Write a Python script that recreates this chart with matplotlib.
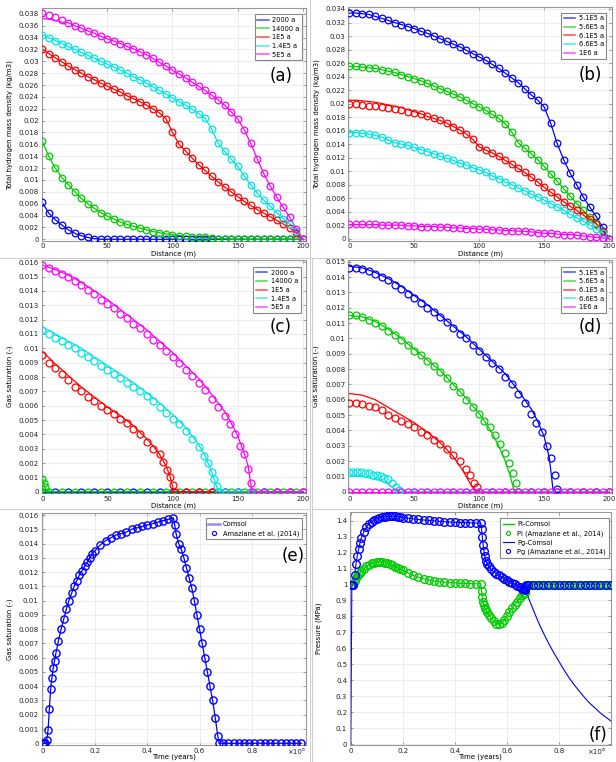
import matplotlib
matplotlib.use("Agg")
import matplotlib.pyplot as plt
from matplotlib.lines import Line2D
from matplotlib.ticker import MultipleLocator, FuncFormatter

W, H = 616, 762

BLUE = "#0000ff"
GREEN = "#00cc00"
RED = "#ff0000"
CYAN = "#00e5e5"
MAGENTA = "#ff00ff"

# ---------------- (a) hydrogen density, early times ----------------
DIST = list(range(0, 201, 5))
a_labels = ["2000 a", "14000 a", "1E5 a", "1.4E5 a", "5E5 a"]
a_2000 = [0.0062, 0.0044, 0.0033, 0.0024, 0.0016, 0.0010, 0.0006, 0.0003, 0.0001,
          0, 0, 0, 0, 0, 0, 0, 0, 0, 0, 0, 0, 0, 0, 0, 0, 0, 0, 0, 0, 0, 0, 0, 0, 0, 0, 0, 0, 0, 0, 0, 0]
a_14000 = [0.0165, 0.0140, 0.0120, 0.0104, 0.0092, 0.0080, 0.0069, 0.0060, 0.0052, 0.0045,
           0.0039, 0.0034, 0.0029, 0.0025, 0.0022, 0.0019, 0.0016, 0.0013, 0.0011, 0.0009,
           0.0008, 0.0006, 0.0005, 0.0004, 0.0003, 0.0003, 0.0002, 0.0001, 0.0001,
           0, 0, 0, 0, 0, 0, 0, 0, 0, 0, 0, 0]
a_1E5 = [0.0320, 0.0313, 0.0306, 0.0299, 0.0292, 0.0286, 0.0280, 0.0274, 0.0269, 0.0263,
         0.0258, 0.0253, 0.0248, 0.0242, 0.0237, 0.0232, 0.0226, 0.0220, 0.0213, 0.0203,
         0.0180, 0.0160, 0.0149, 0.0137, 0.0126, 0.0116, 0.0106, 0.0097, 0.0088, 0.0080,
         0.0072, 0.0064, 0.0057, 0.0050, 0.0044, 0.0038, 0.0032, 0.0026, 0.0019, 0.0011, 0.0]
a_1_4E5 = [0.0345, 0.0340, 0.0335, 0.0330, 0.0325, 0.0320, 0.0315, 0.0310, 0.0305, 0.0300,
           0.0295, 0.0290, 0.0285, 0.0280, 0.0274, 0.0269, 0.0263, 0.0257, 0.0251, 0.0245,
           0.0238, 0.0232, 0.0226, 0.0219, 0.0212, 0.0204, 0.0186, 0.0162, 0.0148, 0.0135,
           0.0123, 0.0107, 0.0092, 0.0078, 0.0066, 0.0056, 0.0045, 0.0035, 0.0026, 0.0014, 0.0]
a_5E5 = [0.0382, 0.0378, 0.0374, 0.0370, 0.0365, 0.0360, 0.0356, 0.0351, 0.0347, 0.0342,
         0.0338, 0.0334, 0.0330, 0.0325, 0.0321, 0.0316, 0.0311, 0.0305, 0.0298, 0.0292,
         0.0285, 0.0279, 0.0272, 0.0265, 0.0258, 0.0251, 0.0243, 0.0235, 0.0226, 0.0215,
         0.0203, 0.0185, 0.0162, 0.0136, 0.0111, 0.0090, 0.0071, 0.0054, 0.0037, 0.0018, 0.0]
a_5E5_line_start = [0.0372, 0.0371, 0.0369, 0.0366]

# ---------------- (b) hydrogen density, late times ----------------
b_labels = ["5.1E5 a", "5.6E5 a", "6.1E5 a", "6.6E5 a", "1E6 a"]
b_5_1E5 = [0.0334, 0.0334, 0.0333, 0.0332, 0.0329, 0.0326, 0.0323, 0.0320, 0.0317, 0.0314,
           0.0311, 0.0307, 0.0304, 0.0300, 0.0296, 0.0292, 0.0288, 0.0284, 0.0279, 0.0274,
           0.0269, 0.0264, 0.0258, 0.0252, 0.0245, 0.0238, 0.0231, 0.0222, 0.0213, 0.0205,
           0.0195, 0.0171, 0.0141, 0.0117, 0.0097, 0.0080, 0.0062, 0.0047, 0.0033, 0.0017, 0.0]
b_5_6E5 = [0.0255, 0.0255, 0.0254, 0.0253, 0.0252, 0.0250, 0.0248, 0.0246, 0.0243, 0.0240,
           0.0237, 0.0234, 0.0230, 0.0226, 0.0222, 0.0218, 0.0214, 0.0210, 0.0205, 0.0200,
           0.0195, 0.0190, 0.0184, 0.0178, 0.0170, 0.0158, 0.0142, 0.0134, 0.0126, 0.0117,
           0.0107, 0.0096, 0.0085, 0.0074, 0.0063, 0.0052, 0.0042, 0.0032, 0.0023, 0.0012, 0.0]
b_6_1E5 = [0.0199, 0.0199, 0.0198, 0.0197, 0.0196, 0.0195, 0.0193, 0.0192, 0.0190, 0.0188,
           0.0186, 0.0184, 0.0181, 0.0178, 0.0175, 0.0171, 0.0166, 0.0161, 0.0155, 0.0147,
           0.0136, 0.0131, 0.0127, 0.0122, 0.0116, 0.0110, 0.0104, 0.0098, 0.0091, 0.0084,
           0.0076, 0.0069, 0.0062, 0.0055, 0.0048, 0.0042, 0.0035, 0.0029, 0.0022, 0.0012, 0.0]
b_6_1E5_line_start = [0.0205, 0.0205, 0.0204, 0.0203, 0.0202, 0.0200, 0.0198, 0.0196,
                      0.0194, 0.0191, 0.0188, 0.0185]
b_6_6E5 = [0.0157, 0.0157, 0.0156, 0.0155, 0.0153, 0.0150, 0.0146, 0.0142, 0.0140, 0.0138,
           0.0135, 0.0132, 0.0129, 0.0126, 0.0122, 0.0119, 0.0116, 0.0112, 0.0109, 0.0105,
           0.0102, 0.0098, 0.0093, 0.0089, 0.0084, 0.0080, 0.0075, 0.0071, 0.0066, 0.0062,
           0.0057, 0.0052, 0.0047, 0.0042, 0.0036, 0.0031, 0.0026, 0.0020, 0.0015, 0.0008, 0.0]
b_1E6 = [0.0021, 0.0021, 0.0021, 0.0021, 0.0021, 0.0020, 0.0020, 0.0020, 0.0020, 0.0019,
         0.0019, 0.0018, 0.0018, 0.0018, 0.0017, 0.0017, 0.0016, 0.0016, 0.0015, 0.0015,
         0.0014, 0.0014, 0.0013, 0.0013, 0.0012, 0.0012, 0.0011, 0.0011, 0.0010, 0.0009,
         0.0008, 0.0008, 0.0007, 0.0006, 0.0006, 0.0005, 0.0004, 0.0003, 0.0002, 0.0001, 0.0]

# ---------------- (c) gas saturation, early times ----------------
c_2000_x = list(range(0, 201, 10))
c_2000 = [0, 0, 0, 0, 0, 0, 0, 0, 0, 0, 0, 0, 0, 0, 0, 0, 0, 0, 0, 0, 0]
c_14000_x = [0, 1, 2, 3] + list(range(5, 201, 10))
c_14000 = [0.0009, 0.0006, 0.0003, 0.0,
           0, 0, 0, 0, 0, 0, 0, 0, 0, 0, 0, 0, 0, 0, 0, 0, 0, 0, 0, 0]
c_1E5_x = list(range(0, 91, 5)) + [93, 96, 98, 100, 102] + list(range(110, 201, 10))
c_1E5 = [0.0095, 0.0090, 0.0086, 0.0082, 0.0078, 0.0073, 0.0070, 0.0066, 0.0063, 0.0060,
         0.0057, 0.0054, 0.0051, 0.0048, 0.0044, 0.0040, 0.0035, 0.0030, 0.0026,
         0.0021, 0.0015, 0.0010, 0.0005, 0.0,
         0, 0, 0, 0, 0, 0, 0, 0, 0, 0]
c_1E5_line_x = [0, 10, 20, 30, 40, 50, 60, 70, 80, 85, 90, 95, 98, 101, 200]
c_1E5_line = [0.0098, 0.0089, 0.0081, 0.0073, 0.0066, 0.0059, 0.0053, 0.0046, 0.0037,
              0.0032, 0.0026, 0.0018, 0.0011, 0.0, 0.0]
c_1_4E5_x = list(range(0, 121, 5)) + [124, 127, 130, 132, 134, 136] + list(range(140, 201, 10))
c_1_4E5 = [0.0113, 0.0110, 0.0107, 0.0105, 0.0102, 0.0100, 0.0097, 0.0094, 0.0091, 0.0088,
           0.0085, 0.0082, 0.0079, 0.0076, 0.0073, 0.0070, 0.0067, 0.0063, 0.0059, 0.0055,
           0.0051, 0.0047, 0.0042, 0.0037, 0.0031,
           0.0025, 0.0020, 0.0014, 0.0009, 0.0004, 0.0,
           0, 0, 0, 0, 0, 0, 0]
c_1_4E5_line_x = [0, 10, 20, 30, 40, 50, 60, 70, 80, 90, 100, 110, 120, 125, 130, 133, 135, 200]
c_1_4E5_line = [0.0115, 0.0110, 0.0105, 0.0100, 0.0094, 0.0088, 0.0082, 0.0076, 0.0069,
                0.0062, 0.0054, 0.0045, 0.0033, 0.0025, 0.0014, 0.0006, 0.0, 0.0]
c_5E5_x = list(range(0, 141, 5)) + [144, 148, 152, 155, 158, 160, 162] + [170, 180, 190, 200]
c_5E5 = [0.0158, 0.0156, 0.0154, 0.0152, 0.0150, 0.0147, 0.0144, 0.0141, 0.0138, 0.0134,
         0.0131, 0.0128, 0.0124, 0.0121, 0.0117, 0.0114, 0.0110, 0.0106, 0.0102, 0.0098,
         0.0094, 0.0090, 0.0085, 0.0081, 0.0076, 0.0071, 0.0065, 0.0059, 0.0053,
         0.0047, 0.0040, 0.0032, 0.0026, 0.0016, 0.0006, 0.0,
         0, 0, 0, 0]
c_5E5_line_x = [0, 10, 20, 30, 40, 50, 60, 70, 80, 90, 100, 110, 120, 130, 140, 145, 150,
                155, 158, 161, 200]
c_5E5_line = [0.0158, 0.0155, 0.0151, 0.0146, 0.0140, 0.0134, 0.0127, 0.0120, 0.0113,
              0.0105, 0.0097, 0.0088, 0.0079, 0.0068, 0.0056, 0.0048, 0.0039, 0.0027,
              0.0018, 0.0, 0.0]

# ---------------- (d) gas saturation, late times ----------------
d_5_1E5_x = list(range(0, 141, 5)) + [144, 148, 152, 155, 158, 160] + [170, 180, 190, 200]
d_5_1E5 = [0.0146, 0.0146, 0.0145, 0.0144, 0.0142, 0.0140, 0.0138, 0.0135, 0.0132, 0.0129,
           0.0126, 0.0123, 0.0120, 0.0117, 0.0114, 0.0111, 0.0107, 0.0103, 0.0100, 0.0096,
           0.0092, 0.0088, 0.0084, 0.0080, 0.0075, 0.0070, 0.0064, 0.0058, 0.0051,
           0.0045, 0.0039, 0.0030, 0.0022, 0.0011, 0.0002,
           0, 0, 0, 0]
d_5_1E5_line_x = [0, 10, 20, 30, 40, 50, 60, 70, 80, 90, 100, 110, 120, 130, 140, 145, 150,
                  154, 157, 200]
d_5_1E5_line = [0.0147, 0.0146, 0.0143, 0.0139, 0.0134, 0.0128, 0.0122, 0.0115, 0.0108,
                0.0101, 0.0093, 0.0085, 0.0077, 0.0066, 0.0054, 0.0046, 0.0036, 0.0022,
                0.0, 0.0]
d_5_6E5_x = list(range(0, 101, 5)) + [104, 108, 112, 116, 120, 123, 126, 128, 130] + list(range(140, 201, 10))
d_5_6E5 = [0.0115, 0.0115, 0.0114, 0.0112, 0.0110, 0.0108, 0.0105, 0.0102, 0.0099, 0.0096,
           0.0092, 0.0089, 0.0085, 0.0082, 0.0078, 0.0074, 0.0069, 0.0065, 0.0060, 0.0055,
           0.0051,
           0.0046, 0.0042, 0.0037, 0.0031, 0.0025, 0.0019, 0.0012, 0.0006, 0.0,
           0, 0, 0, 0, 0, 0, 0]
d_5_6E5_line_x = [0, 10, 20, 30, 40, 50, 60, 70, 80, 90, 100, 105, 110, 115, 120, 124, 127, 200]
d_5_6E5_line = [0.0115, 0.0114, 0.0111, 0.0106, 0.0100, 0.0093, 0.0086, 0.0079, 0.0070,
                0.0061, 0.0051, 0.0045, 0.0038, 0.0030, 0.0020, 0.0010, 0.0, 0.0]
d_6_1E5_x = list(range(0, 91, 5)) + [93, 96, 98, 100] + list(range(110, 201, 10))
d_6_1E5 = [0.0058, 0.0058, 0.0057, 0.0056, 0.0055, 0.0053, 0.0050, 0.0048, 0.0046, 0.0044,
           0.0042, 0.0039, 0.0037, 0.0034, 0.0031, 0.0028, 0.0024, 0.0020, 0.0015,
           0.0011, 0.0006, 0.0003, 0.0,
           0, 0, 0, 0, 0, 0, 0, 0, 0, 0]
d_6_1E5_line_x = [0, 10, 20, 30, 40, 50, 60, 70, 80, 88, 94, 97, 200]
d_6_1E5_line = [0.0064, 0.0063, 0.0060, 0.0055, 0.0050, 0.0045, 0.0039, 0.0032, 0.0023,
                0.0013, 0.0004, 0.0, 0.0]
d_6_6E5_x = [0, 3, 6, 9, 12, 15, 18, 21, 24, 27, 30, 33, 36, 38] + list(range(40, 201, 10))
d_6_6E5 = [0.0013, 0.0013, 0.0013, 0.0013, 0.0012, 0.0012, 0.0011, 0.0011, 0.0010, 0.0009,
           0.0008, 0.0006, 0.0003, 0.0001,
           0, 0, 0, 0, 0, 0, 0, 0, 0, 0, 0, 0, 0, 0, 0, 0, 0]
d_6_6E5_line_x = [0, 10, 20, 25, 30, 33, 36, 200]
d_6_6E5_line = [0.0010, 0.0010, 0.0008, 0.0007, 0.0005, 0.0003, 0.0, 0.0]
d_1E6 = [0, 0, 0, 0, 0, 0, 0, 0, 0, 0, 0, 0, 0, 0, 0, 0, 0, 0, 0, 0,
         0, 0, 0, 0, 0, 0, 0, 0, 0, 0, 0, 0, 0, 0, 0, 0, 0, 0, 0, 0, 0]

# ---------------- (e) gas saturation vs time (x 1e6 years) ----------------
e_time = [0, 0.005, 0.01, 0.015, 0.02, 0.025, 0.03, 0.035, 0.04, 0.045,
          0.05, 0.06, 0.07, 0.08, 0.09, 0.10, 0.11, 0.12, 0.13, 0.14,
          0.15, 0.16, 0.17, 0.18, 0.19, 0.20, 0.22, 0.24, 0.26, 0.28,
          0.30, 0.32, 0.34, 0.36, 0.38, 0.40, 0.42, 0.44, 0.46, 0.48,
          0.50, 0.505, 0.51, 0.52, 0.53, 0.54, 0.55, 0.56, 0.57, 0.58,
          0.59, 0.60, 0.61, 0.62, 0.63, 0.64, 0.65, 0.66, 0.67, 0.675,
          0.69, 0.71, 0.73, 0.75, 0.77, 0.79, 0.81, 0.83, 0.85, 0.87,
          0.89, 0.91, 0.93, 0.95, 0.97, 0.99]
e_sat = [0, 0, 0, 0.0002, 0.0009, 0.0024, 0.0038, 0.0046, 0.0053, 0.0058,
         0.0063, 0.0072, 0.0080, 0.0087, 0.0094, 0.0100, 0.0105, 0.0110, 0.0114, 0.0118,
         0.0121, 0.0124, 0.0127, 0.0130, 0.0133, 0.0135, 0.0139, 0.0142, 0.0144, 0.0146,
         0.0147, 0.0148, 0.0150, 0.0151, 0.0152, 0.0153, 0.0154, 0.0155, 0.0156, 0.0157,
         0.0158, 0.0153, 0.0147, 0.0140, 0.0136, 0.0130, 0.0123, 0.0116, 0.0109, 0.0100,
         0.0090, 0.0080, 0.0070, 0.0060, 0.0050, 0.0040, 0.0030, 0.0018, 0.0005, 0.0,
         0, 0, 0, 0, 0, 0, 0, 0, 0, 0,
         0, 0, 0, 0, 0, 0]

# ---------------- (f) pressures vs time (x 1e6 years) ----------------
f_time = [0, 0.005, 0.01, 0.015, 0.02, 0.025, 0.03, 0.035, 0.04,
          0.05, 0.06, 0.07, 0.08, 0.09, 0.10, 0.11, 0.12, 0.13, 0.14, 0.15, 0.16, 0.17,
          0.18, 0.19, 0.20,
          0.22, 0.24, 0.26, 0.28, 0.30, 0.32, 0.34, 0.36, 0.38, 0.40, 0.42, 0.44, 0.46,
          0.48, 0.50,
          0.503, 0.506, 0.509, 0.512, 0.515,
          0.52, 0.525, 0.53,
          0.54, 0.55, 0.56, 0.57, 0.58, 0.59, 0.60, 0.61, 0.62, 0.63, 0.64, 0.65, 0.66,
          0.665, 0.67]
f_pg = [1.00, 1.00, 1.00, 1.06, 1.13, 1.18, 1.22, 1.26, 1.29,
        1.33, 1.36, 1.38, 1.395, 1.405, 1.412, 1.418, 1.422, 1.425, 1.427, 1.428, 1.428,
        1.427, 1.425, 1.423, 1.420,
        1.416, 1.412, 1.408, 1.405, 1.402, 1.399, 1.396, 1.394, 1.392, 1.390, 1.389,
        1.388, 1.387, 1.386, 1.385,
        1.35, 1.30, 1.25, 1.21, 1.18,
        1.15, 1.13, 1.115,
        1.095, 1.08, 1.068, 1.057, 1.047, 1.037, 1.028, 1.019, 1.010, 1.001, 0.992,
        0.983, 0.974,
        0.969, 0.965]
f_pl = [1.0, 1.0, 1.0, 1.02, 1.04, 1.055, 1.065, 1.075, 1.085,
        1.10, 1.115, 1.125, 1.133, 1.138, 1.141, 1.142, 1.141, 1.138, 1.133, 1.127, 1.12,
        1.113, 1.105, 1.097, 1.089,
        1.073, 1.058, 1.046, 1.036, 1.028, 1.022, 1.018, 1.015, 1.012, 1.010, 1.008,
        1.007, 1.006, 1.005, 1.004,
        0.96, 0.92, 0.89, 0.87, 0.855,
        0.84, 0.825, 0.81,
        0.79, 0.77, 0.755, 0.752, 0.758, 0.775, 0.80, 0.825, 0.85, 0.872, 0.893, 0.913,
        0.932,
        0.94, 0.95]
f_pg_tail_t = [0.671, 0.672, 0.674, 0.68, 0.70, 0.72, 0.74, 0.76, 0.78, 0.80, 0.82, 0.84,
               0.86, 0.88, 0.90, 0.92, 0.94, 0.96, 0.98, 1.00]
f_pg_tail = [0.975, 0.985, 0.995, 1.0, 1.0, 1.0, 1.0, 1.0, 1.0, 1.0, 1.0, 1.0,
             1.0, 1.0, 1.0, 1.0, 1.0, 1.0, 1.0, 1.0]
f_pl_tail_t = [0.673, 0.69, 0.71, 0.73, 0.75, 0.77, 0.79, 0.81, 0.83, 0.85, 0.87, 0.89,
               0.91, 0.93, 0.95, 0.97, 0.99]
f_pl_tail = [0.99, 1.0, 1.0, 1.0, 1.0, 1.0, 1.0, 1.0, 1.0, 1.0, 1.0, 1.0,
             1.0, 1.0, 1.0, 1.0, 1.0]
f_pg_line_head_t = [0.0, 0.004]
f_pg_line_head = [0.0, 0.98]
f_pg_line_tail_t = [0.675, 0.68, 0.70, 0.72, 0.74, 0.76, 0.78, 0.80, 0.82, 0.84, 0.86,
                    0.88, 0.90, 0.92, 0.94, 0.96, 0.98, 1.0]
f_pg_line_tail = [0.955, 0.93, 0.85, 0.77, 0.70, 0.635, 0.575, 0.52, 0.465, 0.415, 0.37,
                  0.33, 0.29, 0.255, 0.225, 0.195, 0.17, 0.145]
f_pl_line_tail_t = [0.673, 1.0]
f_pl_line_tail = [1.0, 1.0]

fig = plt.figure(figsize=(W / 100, H / 100), dpi=100)


def add_ax(left, top, right, bottom):
    return fig.add_axes([left / W, 1 - bottom / H, (right - left) / W, (bottom - top) / H])


def style(ax, ystep):
    ax.tick_params(direction="in", top=True, right=True, length=2.5, width=0.5,
                   color="#777777", labelcolor="#222222", labelsize=5, pad=2)
    for s in ax.spines.values():
        s.set_color("#999999")
        s.set_linewidth(0.8)
    ax.grid(True, color="#e8e8e8", lw=0.5)
    ax.set_axisbelow(True)
    ax.yaxis.set_major_locator(MultipleLocator(ystep))
    ax.yaxis.set_major_formatter(FuncFormatter(lambda v, p: "%g" % round(v, 6)))


def leg(ax, handles, labels, anchor, spacing=0.4):
    lg = ax.legend(handles, labels, loc="upper right", bbox_to_anchor=anchor, fontsize=4.8,
                   frameon=True, fancybox=False, framealpha=1, edgecolor="#888888",
                   handlelength=1.7, handletextpad=0.5, labelspacing=spacing,
                   borderpad=0.4, borderaxespad=0, numpoints=1)
    lg.get_frame().set_linewidth(0.8)


def profiles(ax, series, ms):
    colors = [BLUE, GREEN, RED, CYAN, MAGENTA]
    for (xm, ym, xl, yl), c in zip(series, colors):
        ax.plot(xl, yl, "-", color=c, lw=0.9, zorder=2)
    for (xm, ym, xl, yl), c in zip(series, colors):
        ax.plot(xm, ym, "o", mfc="none", mec=c, ms=ms, mew=0.9, zorder=3)
    handles = [Line2D([], [], color=c, lw=1.1, alpha=0.7) for c in colors]
    return handles


# (a)
ax = add_ax(41.6, 8.5, 306, 240.7)
style(ax, 0.002)
h = profiles(ax, [
    (DIST, a_2000, DIST, a_2000),
    (DIST, a_14000, DIST, a_14000),
    (DIST, a_1E5, DIST, a_1E5),
    (DIST, a_1_4E5, DIST, a_1_4E5),
    (DIST, a_5E5, DIST, a_5E5_line_start + a_5E5[4:]),
], 4.8)
ax.set_xlim(-0.5, 202.5)
ax.set_ylim(-0.00024, 0.0389)
ax.xaxis.set_major_locator(MultipleLocator(50))
leg(ax, h, a_labels, (0.985, 0.975))
ax.text(0.95, 0.71, "(a)", transform=ax.transAxes, ha="right", va="center", fontsize=12)
ax.set_ylabel("Total hydrogen mass density (kg/m3)", fontsize=5, va="center")
ax.yaxis.set_label_coords(-0.121, 0.5)
ax.set_xlabel("Distance (m)", fontsize=5, va="center")
ax.xaxis.set_label_coords(0.5, -0.057)

# (b)
ax = add_ax(348.3, 6.7, 611.7, 240.7)
style(ax, 0.002)
h = profiles(ax, [
    (DIST, b_5_1E5, DIST, b_5_1E5),
    (DIST, b_5_6E5, DIST, b_5_6E5),
    (DIST, b_6_1E5, DIST, b_6_1E5_line_start + b_6_1E5[12:]),
    (DIST, b_6_6E5, DIST, b_6_6E5),
    (DIST, b_1E6, DIST, b_1E6),
], 4.8)
ax.set_xlim(-0.8, 202)
ax.set_ylim(-0.0003, 0.03434)
ax.xaxis.set_major_locator(MultipleLocator(50))
leg(ax, h, b_labels, (0.98, 0.974))
ax.text(0.962, 0.71, "(b)", transform=ax.transAxes, ha="right", va="center", fontsize=12)
ax.set_ylabel("Total hydrogen mass density (kg/m3)", fontsize=5, va="center")
ax.yaxis.set_label_coords(-0.119, 0.5)
ax.set_xlabel("Distance (m)", fontsize=5, va="center")
ax.xaxis.set_label_coords(0.5, -0.057)

# (c)
ax = add_ax(41.7, 260, 306, 493.3)
style(ax, 0.001)
h = profiles(ax, [
    (c_2000_x, c_2000, c_2000_x, c_2000),
    (c_14000_x, c_14000, c_14000_x, c_14000),
    (c_1E5_x, c_1E5, c_1E5_line_x, c_1E5_line),
    (c_1_4E5_x, c_1_4E5, c_1_4E5_line_x, c_1_4E5_line),
    (c_5E5_x, c_5E5, c_5E5_line_x, c_5E5_line),
], 5.0)
ax.set_xlim(-0.5, 202.5)
ax.set_ylim(-0.00011, 0.01616)
ax.xaxis.set_major_locator(MultipleLocator(50))
leg(ax, h, a_labels, (0.98, 0.97))
ax.text(0.947, 0.712, "(c)", transform=ax.transAxes, ha="right", va="center", fontsize=12)
ax.set_ylabel("Gas saturation (-)", fontsize=5, va="center")
ax.yaxis.set_label_coords(-0.121, 0.5)
ax.set_xlabel("Distance (m)", fontsize=5, va="center")
ax.xaxis.set_label_coords(0.5, -0.054)

# (d)
ax = add_ax(348.3, 260, 611.7, 493.3)
style(ax, 0.001)
h = profiles(ax, [
    (d_5_1E5_x, d_5_1E5, d_5_1E5_line_x, d_5_1E5_line),
    (d_5_6E5_x, d_5_6E5, d_5_6E5_line_x, d_5_6E5_line),
    (d_6_1E5_x, d_6_1E5, d_6_1E5_line_x, d_6_1E5_line),
    (d_6_6E5_x, d_6_6E5, d_6_6E5_line_x, d_6_6E5_line),
    (DIST, d_1E6, DIST, d_1E6),
], 5.0)
ax.set_xlim(-0.8, 202)
ax.set_ylim(-0.0001, 0.01511)
ax.xaxis.set_major_locator(MultipleLocator(50))
leg(ax, h, b_labels, (0.98, 0.97))
ax.text(0.962, 0.712, "(d)", transform=ax.transAxes, ha="right", va="center", fontsize=12)
ax.set_ylabel("Gas saturation (-)", fontsize=5, va="center")
ax.yaxis.set_label_coords(-0.123, 0.5)
ax.set_xlabel("Distance (m)", fontsize=5, va="center")
ax.xaxis.set_label_coords(0.5, -0.054)

# (e)
ax = add_ax(41.5, 513.3, 306, 745)
style(ax, 0.001)
ax.plot(e_time, e_sat, "-", color=BLUE, lw=0.9, zorder=2)
ax.plot(e_time, e_sat, "o", mfc="none", mec=BLUE, ms=5.2, mew=1.0, zorder=3)
ax.set_xlim(-0.005, 1.0075)
ax.set_ylim(-0.00012, 0.01612)
ax.set_xticks([0, 0.2, 0.4, 0.6, 0.8])
ax.xaxis.set_major_formatter(FuncFormatter(lambda v, p: "%g" % round(v, 6)))
leg(ax, [Line2D([], [], color=BLUE, lw=1.8, alpha=0.45),
         Line2D([], [], ls="none", marker="o", mfc="none", mec=BLUE, ms=3, mew=0.8)],
    ["Comsol", "Amaziane et al. (2014)"], (0.985, 0.978), spacing=0.45)
ax.text(0.996, 0.815, "(e)", transform=ax.transAxes, ha="right", va="center", fontsize=12)
ax.text(0.996, -0.03, "×10⁶", transform=ax.transAxes, ha="right", va="center",
        fontsize=5, color="#222222")
ax.set_ylabel("Gas saturation (-)", fontsize=5, va="center")
ax.yaxis.set_label_coords(-0.120, 0.5)
ax.set_xlabel("Time (years)", fontsize=5, va="center")
ax.xaxis.set_label_coords(0.5, -0.052)

# (f)
ax = add_ax(350, 512.3, 611, 745)
style(ax, 0.1)
ax.plot(f_time + f_pl_line_tail_t, f_pl + f_pl_line_tail, "-", color=GREEN, lw=0.8, zorder=2)
ax.plot(f_pg_line_head_t + f_time[1:] + f_pg_line_tail_t,
        f_pg_line_head + f_pg[1:] + f_pg_line_tail, "-", color=BLUE, lw=0.8, zorder=2)
ax.plot(f_time + f_pl_tail_t, f_pl + f_pl_tail, "o", mfc="none", mec=GREEN, ms=5.5,
        mew=1.0, zorder=3)
ax.plot(f_time + f_pg_tail_t, f_pg + f_pg_tail, "o", mfc="none", mec=BLUE, ms=5.5,
        mew=1.0, zorder=3)
ax.set_xlim(-0.003, 1.001)
ax.set_ylim(-0.006, 1.453)
ax.set_xticks([0, 0.2, 0.4, 0.6, 0.8])
ax.xaxis.set_major_formatter(FuncFormatter(lambda v, p: "%g" % round(v, 6)))
leg(ax, [Line2D([], [], color=GREEN, lw=1.0),
         Line2D([], [], ls="none", marker="o", mfc="none", mec=GREEN, ms=3, mew=0.8),
         Line2D([], [], color=BLUE, lw=0.8),
         Line2D([], [], ls="none", marker="o", mfc="none", mec=BLUE, ms=3, mew=0.8)],
    ["Pl-Comsol", "Pl (Amaziane et al., 2014)", "Pg-Comsol", "Pg (Amaziane et al., 2014)"],
    (0.992, 0.974), spacing=0.45)
ax.text(0.985, 0.005, "(f)", transform=ax.transAxes, ha="right", va="bottom", fontsize=12)
ax.text(0.977, -0.03, "×10⁶", transform=ax.transAxes, ha="right", va="center",
        fontsize=5, color="#222222")
ax.set_ylabel("Pressure (MPa)", fontsize=5, va="center")
ax.yaxis.set_label_coords(-0.12, 0.5)
ax.set_xlabel("Time (years)", fontsize=5, va="center")
ax.xaxis.set_label_coords(0.5, -0.052)

# faint frames of the individual panel images
for (x0, y0, x1, y1) in [(309.5, 0, 309.5, 762), (312, 258, 312, 762),
                         (0, 258, 309.5, 258), (312, 258, 616, 258),
                         (0, 509, 309.5, 509), (312, 509, 616, 509)]:
    fig.add_artist(Line2D([x0 / W, x1 / W], [1 - y0 / H, 1 - y1 / H],
                          transform=fig.transFigure, color="#cccccc", lw=0.7))

fig.savefig("out.png", dpi=100)
